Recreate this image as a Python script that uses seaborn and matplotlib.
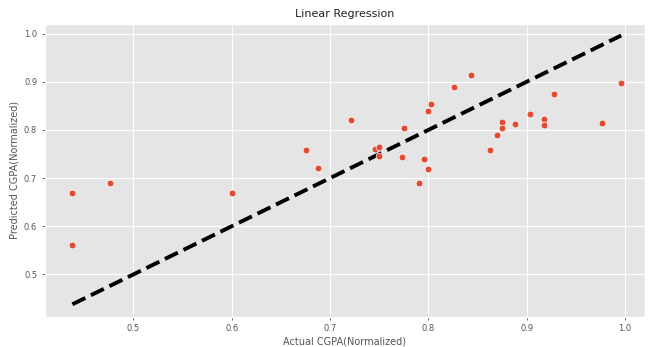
import matplotlib
matplotlib.use("Agg")
import matplotlib.pyplot as plt
import seaborn as sns
import pandas as pd

actual = [0.438, 0.438, 0.476, 0.600, 0.676, 0.688, 0.721, 0.746, 0.750, 0.750,
          0.775, 0.773, 0.790, 0.795, 0.800, 0.800, 0.803, 0.826, 0.843, 0.863,
          0.870, 0.875, 0.875, 0.888, 0.903, 0.918, 0.918, 0.928, 0.976, 0.996]
predicted = [0.669, 0.561, 0.690, 0.670, 0.758, 0.721, 0.820, 0.760, 0.764, 0.745,
             0.803, 0.744, 0.689, 0.739, 0.719, 0.839, 0.853, 0.890, 0.915, 0.759,
             0.790, 0.817, 0.803, 0.812, 0.833, 0.822, 0.810, 0.875, 0.815, 0.898]

df = pd.DataFrame({"actual": actual, "predicted": predicted})

plt.style.use("ggplot")
plt.rcParams['font.family'] = ['DejaVu Sans']

fig = plt.figure(figsize=(6.5, 3.47), dpi=100)
ax = fig.add_axes([0.069, 0.087, 0.923, 0.844])

sns.scatterplot(data=df, x="actual", y="predicted", ax=ax, color="#E24A33",
                s=24, edgecolor="white", linewidth=0.5, zorder=3)
lo, hi = min(actual), max(actual)
ax.plot([lo, hi], [lo, hi], "k--", lw=2.8, zorder=2)

ax.set_xlim(0.41, 1.02)
ax.set_ylim(0.412, 1.02)
ax.set_xticks([0.5, 0.6, 0.7, 0.8, 0.9, 1.0])
ax.set_yticks([0.5, 0.6, 0.7, 0.8, 0.9, 1.0])
ax.tick_params(labelsize=6, colors="#555555", length=2, width=0.6)
ax.set_xlabel("Actual CGPA(Normalized)", fontsize=7, color="#555555", labelpad=2)
ax.set_ylabel("Predicted CGPA(Normalized)", fontsize=7, color="#555555", labelpad=3)
ax.set_title("Linear Regression", fontsize=8, color="#222222", pad=5)

fig.savefig("out.png", dpi=100)
